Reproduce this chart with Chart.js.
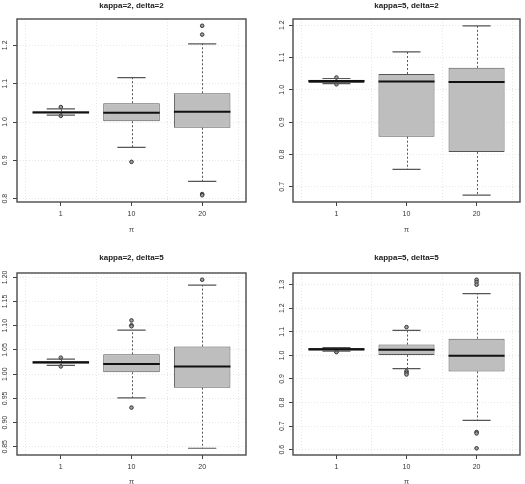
<!DOCTYPE html>
<html>
<head>
<meta charset="utf-8">
<script src="https://cdn.jsdelivr.net/npm/chart.js@4.4.1/dist/chart.umd.min.js"></script>
<style>
  body { margin: 0; background: #fff; }
  .panel { position: absolute; }
</style>
</head>
<body>
<div class="panel" style="left:0;top:0"><canvas id="p1" width="262" height="242"></canvas></div>
<div class="panel" style="left:262px;top:0"><canvas id="p2" width="263" height="242"></canvas></div>
<div class="panel" style="left:0;top:242px"><canvas id="p3" width="262" height="242"></canvas></div>
<div class="panel" style="left:262px;top:242px"><canvas id="p4" width="263" height="242"></canvas></div>
<script>
// groups on the x axis
const groups = ['1', '10', '20'];

// each row: [lower whisker, Q1, median, Q3, upper whisker]
// kappa=2, delta=2
const k2d2Stats = [
  [1.018, 1.023, 1.025, 1.028, 1.034],
  [0.934, 1.002, 1.024, 1.049, 1.116],
  [0.845, 0.985, 1.027, 1.075, 1.204]
];
const k2d2Out = [[1.039, 1.016], [0.896], [1.251, 1.228, 0.812, 0.809]];
const k2d2Ticks = ['0.8', '0.9', '1.0', '1.1', '1.2'];

// kappa=5, delta=2
const k5d2Stats = [
  [1.019, 1.021, 1.027, 1.031, 1.035],
  [0.754, 0.855, 1.026, 1.049, 1.117],
  [0.674, 0.808, 1.024, 1.068, 1.198]
];
const k5d2Out = [[1.038, 1.017], [], []];
const k5d2Ticks = ['0.7', '0.8', '0.9', '1.0', '1.1', '1.2'];

// kappa=2, delta=5
const k2d5Stats = [
  [1.018, 1.022, 1.024, 1.027, 1.031],
  [0.951, 1.004, 1.021, 1.041, 1.091],
  [0.847, 0.972, 1.016, 1.057, 1.184]
];
const k2d5Out = [[1.034, 1.016], [1.111, 1.101, 1.099, 0.931], [1.195]];
const k2d5Ticks = ['0.85', '0.90', '0.95', '1.00', '1.05', '1.10', '1.15', '1.20'];

// kappa=5, delta=5
const k5d5Stats = [
  [1.018, 1.020, 1.026, 1.031, 1.033],
  [0.944, 1.002, 1.024, 1.046, 1.106],
  [0.724, 0.932, 0.998, 1.071, 1.262]
];
const k5d5Out = [[1.016, 1.014], [1.120, 0.933, 0.926, 0.919], [1.321, 1.311, 1.300, 0.675, 0.669, 0.606]];
const k5d5Ticks = ['0.6', '0.7', '0.8', '0.9', '1.0', '1.1', '1.2', '1.3'];

const FONT = '"Liberation Sans", Arial, Helvetica, sans-serif';

// whiskers, caps, medians and the frame, drawn through the chart scales
const boxPlot = {
  id: 'boxPlot',
  beforeDatasetsDraw(chart) {
    const { ctx, chartArea: a, scales: { x } } = chart;
    ctx.save();
    ctx.strokeStyle = '#e6e6e6';
    ctx.lineWidth = 1;
    ctx.setLineDash([1, 2]);
    [0.5, 1.5, 2.5, 3.5].forEach(v => {
      const px = Math.round(x.getPixelForValue(v)) + 0.5;
      ctx.beginPath();
      ctx.moveTo(px, a.top);
      ctx.lineTo(px, a.bottom);
      ctx.stroke();
    });
    ctx.restore();
  },
  afterDatasetsDraw(chart, args, opts) {
    const { ctx, scales: { x, y } } = chart;
    opts.stats.forEach((s, i) => {
      const c = i + 1;
      const xc = Math.round(x.getPixelForValue(c)) + 0.5;
      const [lo, q1, med, q3, hi] = s.map(v => y.getPixelForValue(v));
      ctx.save();
      ctx.strokeStyle = '#555';
      ctx.lineWidth = 1;
      ctx.setLineDash([2, 2]);
      ctx.beginPath();
      ctx.moveTo(xc, q3); ctx.lineTo(xc, hi);
      ctx.moveTo(xc, q1); ctx.lineTo(xc, lo);
      ctx.stroke();
      ctx.setLineDash([]);
      const cl = x.getPixelForValue(c - 0.2), cr = x.getPixelForValue(c + 0.2);
      ctx.lineWidth = 1.2;
      ctx.beginPath();
      ctx.moveTo(cl, hi); ctx.lineTo(cr, hi);
      ctx.moveTo(cl, lo); ctx.lineTo(cr, lo);
      ctx.stroke();
      ctx.strokeStyle = '#111';
      ctx.lineWidth = 2;
      ctx.beginPath();
      ctx.moveTo(x.getPixelForValue(c - 0.4), med);
      ctx.lineTo(x.getPixelForValue(c + 0.4), med);
      ctx.stroke();
      ctx.restore();
    });
  },
  afterDraw(chart) {
    const { ctx, chartArea: a } = chart;
    ctx.save();
    ctx.strokeStyle = '#4a4a4a';
    ctx.lineWidth = 1.4;
    ctx.strokeRect(a.left, a.top, a.right - a.left, a.bottom - a.top);
    ctx.restore();
  }
};

function panel(id, title, stats, outliers, tickLabels, lay) {
  const ticks = tickLabels.map(Number);
  const all = stats.flat().concat(outliers.flat());
  const lo = Math.min(...all), hi = Math.max(...all);
  const ext = (hi - lo) * 0.04;

  new Chart(document.getElementById(id), {
    type: 'bar',
    plugins: [boxPlot],
    data: {
      datasets: [
        {
          type: 'bar',
          data: stats.map((s, i) => ({ x: i + 1, y: [s[1], s[3]] })),
          backgroundColor: '#bebebe',
          borderColor: '#555',
          borderWidth: 1,
          borderSkipped: false,
          categoryPercentage: 1,
          barPercentage: 0.8
        },
        {
          type: 'scatter',
          data: outliers.flatMap((o, i) => o.map(v => ({ x: i + 1, y: v }))),
          pointRadius: 1.8,
          pointBorderWidth: 1,
          pointBorderColor: '#333',
          pointBackgroundColor: '#a0a0a0'
        }
      ]
    },
    options: {
      responsive: false,
      animation: false,
      events: [],
      layout: { padding: { left: lay.left, right: lay.right, top: 0, bottom: 0 } },
      plugins: {
        legend: { display: false },
        tooltip: { enabled: false },
        title: {
          display: true,
          text: title,
          fullSize: false,
          color: '#222',
          font: { family: FONT, size: 8, weight: 'bold' },
          padding: { top: lay.titleTop, bottom: lay.titleBottom }
        },
        boxPlot: { stats: stats }
      },
      scales: {
        x: {
          type: 'linear',
          offset: false,
          min: 0.38,
          max: 3.62,
          afterBuildTicks: s => { s.ticks = [1, 2, 3].map(v => ({ value: v })); },
          afterFit: s => { s.height = lay.xHeight; },
          ticks: {
            callback: (v, i) => groups[i],
            color: '#333',
            font: { family: FONT, size: 7 },
            padding: 4,
            maxRotation: 0
          },
          grid: {
            offset: false,
            drawOnChartArea: false,
            drawTicks: true,
            tickLength: 4,
            tickColor: '#444'
          },
          border: { display: false },
          title: {
            display: true,
            text: 'π',
            color: '#555',
            font: { family: FONT, size: 8 },
            padding: { top: 0, bottom: lay.xTitlePad }
          }
        },
        y: {
          min: lo - ext,
          max: hi + ext,
          afterBuildTicks: s => { s.ticks = ticks.map(v => ({ value: v })); },
          afterFit: s => { s.width = 17; },
          ticks: {
            callback: (v, i) => tickLabels[i],
            color: '#333',
            font: { family: FONT, size: 7 },
            minRotation: 90,
            maxRotation: 90,
            crossAlign: 'center',
            padding: lay.yPad
          },
          grid: {
            color: '#e6e6e6',
            drawTicks: true,
            tickLength: 4,
            tickColor: '#444'
          },
          border: { display: false, dash: [1, 2] }
        }
      }
    }
  });
}

panel('p1', 'kappa=2, delta=2', k2d2Stats, k2d2Out, k2d2Ticks,
  { left: 0, right: 16, titleTop: 1, titleBottom: 8.4, xHeight: 40, xTitlePad: 7, yPad: 3 });
panel('p2', 'kappa=5, delta=2', k5d2Stats, k5d2Out, k5d2Ticks,
  { left: 14, right: 4, titleTop: 1, titleBottom: 8.4, xHeight: 40, xTitlePad: 7, yPad: 2 });
panel('p3', 'kappa=2, delta=5', k2d5Stats, k2d5Out, k2d5Ticks,
  { left: 0, right: 16, titleTop: 11, titleBottom: 10.4, xHeight: 29, xTitlePad: -3, yPad: 1.2 });
panel('p4', 'kappa=5, delta=5', k5d5Stats, k5d5Out, k5d5Ticks,
  { left: 14, right: 4, titleTop: 11, titleBottom: 10.4, xHeight: 29, xTitlePad: -3, yPad: 2 });
</script>
</body>
</html>
